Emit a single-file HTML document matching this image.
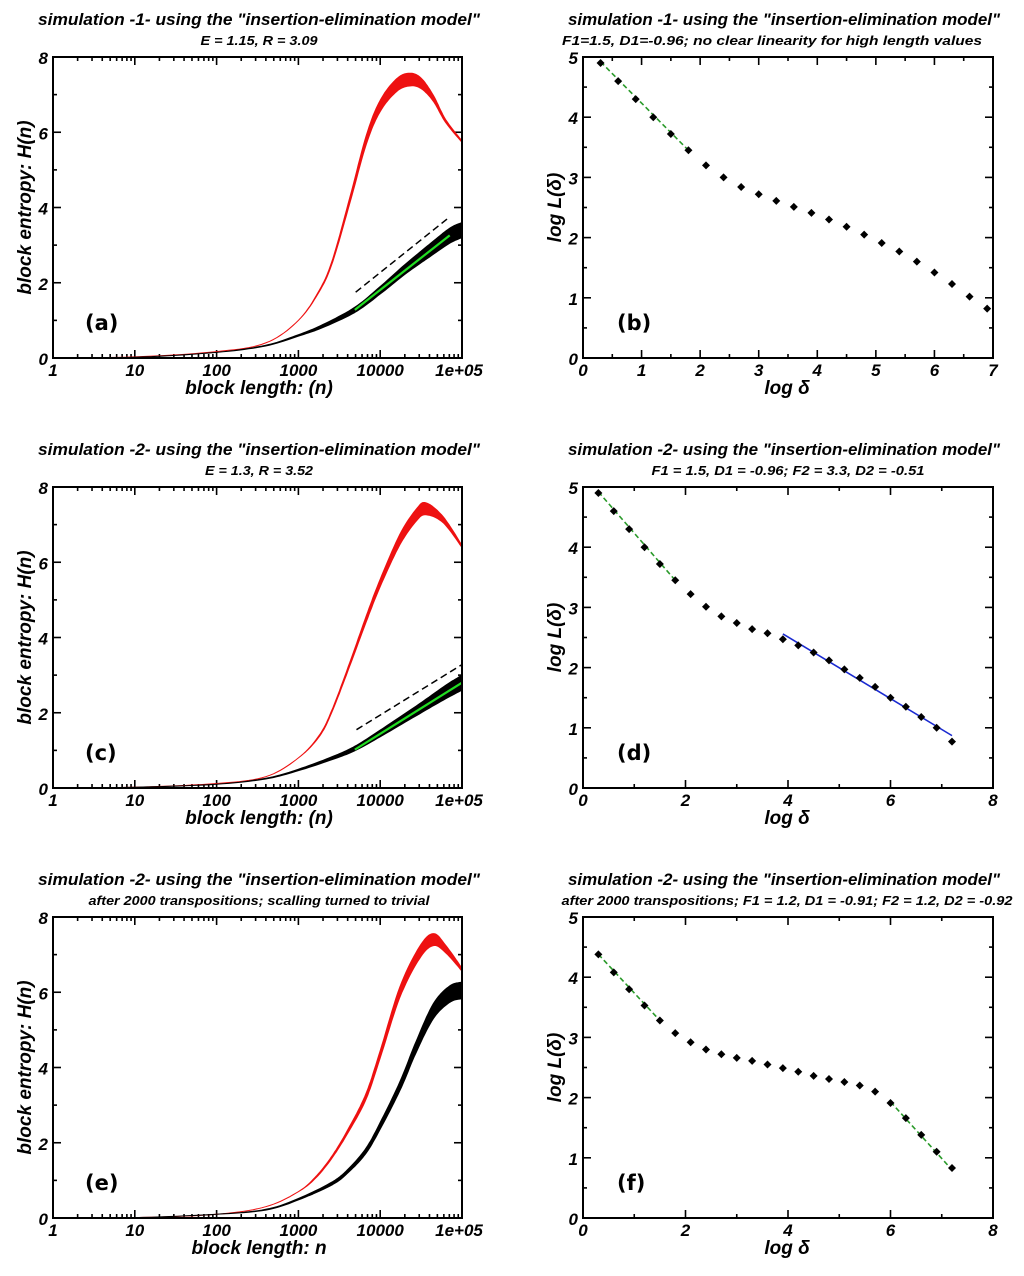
<!DOCTYPE html>
<html><head><meta charset="utf-8"><style>
html,body{margin:0;padding:0;background:#fff;}
svg{display:block;font-family:"Liberation Sans",sans-serif;}
</style></head><body>
<svg id="fig" width="1024" height="1276" viewBox="0 0 1024 1276" xmlns="http://www.w3.org/2000/svg"></svg>
<script>
// ---- data (x = log10 n) ----
const redA_x=[0,1,2,2.6,3,3.26,3.42,3.63,3.83,4.0,4.2,4.36,4.5,4.65,4.8,5.0];
const redA_y=[0,0.03,0.17,0.4,1.0,1.8,2.6,4.2,5.8,6.7,7.25,7.4,7.3,6.9,6.3,5.75];
const redA_s=[0,0,0,0,0,0.02,0.04,0.08,0.12,0.15,0.17,0.17,0.14,0.08,0.04,0.02];
const blkA_x=[0,1,2,2.6,3,3.3,3.69,4.0,4.3,4.6,4.85,5.0];
const blkA_y=[0,0.02,0.15,0.33,0.6,0.85,1.28,1.8,2.35,2.85,3.25,3.4];
const blkA_s=[0,0,0,0.01,0.02,0.04,0.07,0.1,0.13,0.17,0.2,0.2];
const fitA=[[3.69,1.28],[4.85,3.26]], dashA=[[3.7,1.75],[4.85,3.75]];

const redC_x=[0,1,2,2.6,3,3.26,3.42,3.63,3.83,4.0,4.24,4.44,4.56,4.77,5.0];
const redC_y=[0,0.02,0.12,0.3,0.8,1.4,2.1,3.3,4.5,5.45,6.6,7.25,7.42,7.13,6.42];
const redC_s=[0,0,0,0,0,0.02,0.03,0.05,0.08,0.1,0.14,0.16,0.16,0.08,0.03];
const blkC_x=[0,1,2,2.6,3,3.42,3.69,4.0,4.44,4.8,5.0];
const blkC_y=[0,0.02,0.1,0.25,0.48,0.8,1.05,1.45,2.05,2.55,2.8];
const blkC_s=[0,0,0,0.01,0.02,0.04,0.06,0.09,0.13,0.18,0.2];
const fitC=[[3.69,1.02],[5.0,2.8]], dashC=[[3.71,1.55],[5.0,3.28]];

const redE_x=[0,1,2,2.6,3,3.22,3.42,3.63,3.83,4.0,4.24,4.48,4.65,4.8,5.0];
const redE_y=[0,0.01,0.1,0.3,0.7,1.1,1.65,2.4,3.25,4.35,6.0,7.05,7.4,7.15,6.6];
const redE_s=[0,0,0,0,0,0.02,0.03,0.05,0.08,0.1,0.14,0.16,0.16,0.1,0.04];
const blkE_x=[0,1,2,2.6,3,3.42,3.63,3.83,4.0,4.24,4.44,4.65,4.85,5.0];
const blkE_y=[0,0.01,0.1,0.22,0.5,0.93,1.3,1.8,2.45,3.5,4.55,5.5,5.95,6.05];
const blkE_s=[0,0,0,0.01,0.02,0.04,0.05,0.07,0.09,0.12,0.15,0.2,0.22,0.22];

const ptsB_x=[0.3,0.6,0.9,1.2,1.5,1.8,2.1,2.4,2.7,3.0,3.3,3.6,3.9,4.2,4.5,4.8,5.1,5.4,5.7,6.0,6.3,6.6,6.9];
const ptsB_y=[4.9,4.6,4.3,4.0,3.72,3.45,3.2,3.0,2.84,2.72,2.61,2.51,2.41,2.3,2.18,2.05,1.91,1.77,1.6,1.42,1.23,1.02,0.82];
const ptsD_x=[0.3,0.6,0.9,1.2,1.5,1.8,2.1,2.4,2.7,3.0,3.3,3.6,3.9,4.2,4.5,4.8,5.1,5.4,5.7,6.0,6.3,6.6,6.9,7.2];
const ptsD_y=[4.9,4.6,4.3,4.0,3.72,3.45,3.22,3.01,2.85,2.74,2.64,2.57,2.47,2.37,2.25,2.12,1.97,1.83,1.68,1.5,1.35,1.18,1.0,0.77];
const ptsF_x=ptsD_x;
const ptsF_y=[4.38,4.08,3.8,3.53,3.28,3.07,2.92,2.8,2.72,2.66,2.61,2.55,2.49,2.43,2.36,2.31,2.26,2.2,2.1,1.91,1.66,1.38,1.1,0.83];
const xTicksLog=["1","10","100","1000","10000","1e+05"];

const NS="http://www.w3.org/2000/svg";
const svg=document.getElementById('fig');
function mk(tag,attrs,parent,text){const e=document.createElementNS(NS,tag);for(const k in attrs)e.setAttribute(k,attrs[k]);if(text!==undefined)e.textContent=text;(parent||svg).appendChild(e);return e;}
const TXT='font-weight:bold;font-style:italic;';

function smooth(pts){
  let out=[];
  for(let i=0;i<pts.length-1;i++){
    const p0=pts[Math.max(0,i-1)],p1=pts[i],p2=pts[i+1],p3=pts[Math.min(pts.length-1,i+2)];
    for(let k=0;k<10;k++){const t=k/10,t2=t*t,t3=t2*t;
      const f=(a,b,c,d)=>0.5*((2*b)+(-a+c)*t+(2*a-5*b+4*c-d)*t2+(-a+3*b-3*c+d)*t3);
      out.push([f(p0[0],p1[0],p2[0],p3[0]),f(p0[1],p1[1],p2[1],p3[1])]);}
  }
  out.push(pts[pts.length-1]);return out;
}
function frame(g,L,T,W,H){
  const r=mk('rect',{x:L,y:T,width:W,height:H,fill:'none',stroke:'#000','stroke-width':2},g);
  
}
function titles(g,cx,top,t1,t2,w1,w2){
  let a=mk('text',{x:cx,y:top+25,'text-anchor':'middle',textLength:w1,lengthAdjust:'spacingAndGlyphs',style:TXT+'font-size:17px'},g,t1);
  
  let b=mk('text',{x:cx,y:top+45,'text-anchor':'middle',textLength:w2,lengthAdjust:'spacingAndGlyphs',style:TXT+'font-size:13px'},g,t2);
  
}
function tick(g,x1,y1,x2,y2){mk('line',{x1,y1,x2,y2,stroke:'#000','stroke-width':1.6},g);}

function leftPanel(top,sub,sw,xlab,letter,rx,ry,rs,bx,by,bs,fit,dash){
  const g=mk('g',{});
  const L=53,R=462,T=top+57,B=top+358;
  const X=v=>L+(R-L)*v/5, Y=v=>B-(B-T)*v/8;
  titles(g,259,top,'simulation '+sub[0]+' using the "insertion-elimination model"',sub[1],442,sw);
  for(let d=0;d<5;d++)for(let m=1;m<10;m++){const x=X(d+Math.log10(m));const len=m==1?8:4;
    tick(g,x,B,x,B-len);tick(g,x,T,x,T+len);}
  for(let v=0;v<=8;v++){const y=Y(v);const len=v%2==0?8:4;tick(g,L,y,L+len,y);tick(g,R,y,R-len,y);}
  xTicksLog.forEach((t,i)=>{const e=mk('text',{x:X(i)+(i==5?-3:0),y:B+18,'text-anchor':'middle',style:TXT+'font-size:17px'},g,t);
    });
  for(let v=0;v<=8;v+=2){const e=mk('text',{x:L-5,y:Y(v)+7,'text-anchor':'end',style:TXT+'font-size:17px'},g,v);
    }
  let xl=mk('text',{x:259,y:B+36,'text-anchor':'middle',style:TXT+'font-size:19px'},g,xlab);
  
  let yl=mk('text',{x:0,y:0,'text-anchor':'middle',transform:`translate(31,${(T+B)/2}) rotate(-90)`,style:TXT+'font-size:19px'},g,'block entropy: H(n)');
  
  let lt=mk('text',{x:85,y:B-28,style:'font-weight:bold;font-family:"DejaVu Sans",sans-serif;font-size:21px'},g,'('+letter+')');
  
  function band(xs,ys,ss,col,name){
    const up=smooth(xs.map((x,i)=>[X(x),Y(ys[i]+ss[i])]));
    const lo=smooth(xs.map((x,i)=>[X(x),Y(ys[i]-ss[i])])).reverse();
    const p=mk('polygon',{points:up.concat(lo).map(q=>q[0].toFixed(1)+','+q[1].toFixed(1)).join(' '),fill:col,stroke:col,'stroke-width':1,'stroke-linejoin':'round'},g);
    
  }
  band(rx,ry,rs,'#ee1111','shuffled-entropy-curve');
  band(bx,by,bs,'#000','entropy-curve');
  if(fit){const l=mk('line',{x1:X(fit[0][0]),y1:Y(fit[0][1]),x2:X(fit[1][0]),y2:Y(fit[1][1]),stroke:'#22dd22','stroke-width':2.2},g);
    }
  if(dash){const l=mk('line',{x1:X(dash[0][0]),y1:Y(dash[0][1]),x2:X(dash[1][0]),y2:Y(dash[1][1]),stroke:'#000','stroke-width':1.5,'stroke-dasharray':'7,4'},g);
    }
  frame(g,L,T,R-L,B-T);
}

function rightPanel(top,sub,sw,scx,letter,xmax,xmaj,px,py,fits){
  const g=mk('g',{});
  const L=583,R=993,T=top+57,B=top+358;
  const X=v=>L+(R-L)*v/xmax, Y=v=>B-(B-T)*v/5;
  let a=mk('text',{x:784,y:top+25,'text-anchor':'middle',textLength:432,lengthAdjust:'spacingAndGlyphs',style:TXT+'font-size:17px'},g,'simulation '+sub[0]+' using the "insertion-elimination model"');
  
  let b=mk('text',{x:scx,y:top+45,'text-anchor':'middle',textLength:sw,lengthAdjust:'spacingAndGlyphs',style:TXT+'font-size:13px'},g,sub[1]);
  
  for(let v=0;v<=xmax+1e-9;v+=xmaj/2){const x=X(v);const len=(Math.round(v/xmaj*2)%2==0)?8:4;tick(g,x,B,x,B-len);tick(g,x,T,x,T+len);}
  for(let v=0;v<=5;v+=0.5){const y=Y(v);const len=(v%1==0)?8:4;tick(g,L,y,L+len,y);tick(g,R,y,R-len,y);}
  for(let v=0;v<=xmax;v+=xmaj){const e=mk('text',{x:X(v),y:B+18,'text-anchor':'middle',style:TXT+'font-size:17px'},g,v);
    }
  for(let v=0;v<=5;v++){const e=mk('text',{x:L-5,y:Y(v)+7,'text-anchor':'end',style:TXT+'font-size:17px'},g,v);
    }
  let xl=mk('text',{x:787,y:B+36,'text-anchor':'middle',style:TXT+'font-size:19px'},g,'log δ');
  
  let yl=mk('text',{x:0,y:0,'text-anchor':'middle',transform:`translate(561,${(T+B)/2}) rotate(-90)`,style:TXT+'font-size:19px'},g,'log L(δ)');
  
  let lt=mk('text',{x:617,y:B-28,style:'font-weight:bold;font-family:"DejaVu Sans",sans-serif;font-size:21px'},g,'('+letter+')');
  
  fits.forEach(f=>{const a={x1:X(f[0]),y1:Y(f[1]),x2:X(f[2]),y2:Y(f[3]),stroke:f[4],'stroke-width':1.6};if(f[5])a['stroke-dasharray']='5,3';
    const l=mk('line',a,g);});
  px.forEach((x,i)=>{const cx=X(x),cy=Y(py[i]);
    const p=mk('polygon',{points:`${cx},${cy-4} ${cx+4},${cy} ${cx},${cy+4} ${cx-4},${cy}`,fill:'#000'},g);
    });
  frame(g,L,T,R-L,B-T);
}

leftPanel(0,['-1-','E = 1.15, R = 3.09'],117,'block length: (n)','a',redA_x,redA_y,redA_s,blkA_x,blkA_y,blkA_s,fitA,dashA);
leftPanel(430,['-2-','E = 1.3, R = 3.52'],108,'block length: (n)','c',redC_x,redC_y,redC_s,blkC_x,blkC_y,blkC_s,fitC,dashC);
leftPanel(860,['-2-','after 2000 transpositions; scalling turned to trivial'],341,'block length: n','e',redE_x,redE_y,redE_s,blkE_x,blkE_y,blkE_s,null,null);
rightPanel(0,['-1-','F1=1.5, D1=-0.96; no clear linearity for high length values'],420,772,'b',7,1,ptsB_x,ptsB_y,[[0.3,4.92,1.8,3.45,'#2a9a2a',true]]);
rightPanel(430,['-2-','F1 = 1.5, D1 = -0.96;   F2 = 3.3, D2 = -0.51'],273,788,'d',8,2,ptsD_x,ptsD_y,[[0.3,4.92,1.8,3.45,'#2a9a2a',true],[3.9,2.56,7.2,0.87,'#1a2ad0',false]]);
rightPanel(860,['-2-','after 2000 transpositions; F1 = 1.2, D1 = -0.91;   F2 = 1.2, D2 = -0.92'],451,787,'f',8,2,ptsF_x,ptsF_y,[[0.3,4.38,1.5,3.28,'#2a9a2a',true],[6.0,1.93,7.2,0.8,'#2a9a2a',true]]);
</script>
</body></html>
